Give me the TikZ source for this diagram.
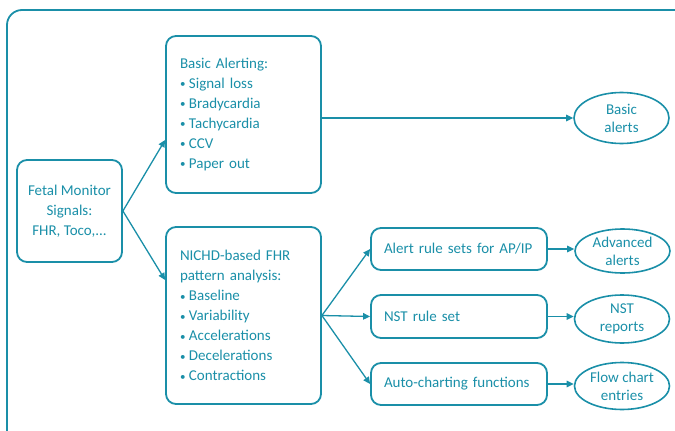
\documentclass[tikz,border=0pt]{standalone}
\usepackage{fontspec}
\setmainfont{Carlito}
\usetikzlibrary{arrows.meta,shapes.geometric,calc}
\definecolor{tealc}{RGB}{26,143,168}
% small list bullet
\newcommand{\lbul}{{\fontsize{11}{11}\selectfont\raisebox{0.6pt}{•}}\hspace{3.5pt}}
\begin{document}
\begin{tikzpicture}[x=1pt,y=-1pt,
  every node/.style={text=tealc, font=\fontsize{15}{20}\selectfont},
  box/.style={draw=tealc, line width=1.8pt, rounded corners=10pt, inner sep=0pt},
  oval/.style={draw=tealc, line width=1.6pt, ellipse, inner sep=0pt,
    minimum width=95pt, align=center, font=\fontsize{15}{18}\selectfont},
  conn/.style={draw=tealc, line width=1.3pt, -{Triangle[length=7pt,width=6.5pt]}}
]
\useasboundingbox (0,0) rectangle (675,431);
% outer frame, running off the right and bottom edges
\draw[tealc, line width=1.8pt, rounded corners=15pt] (7,10) rectangle (710,460);

% input
\node[box, minimum width=105pt, minimum height=102pt, align=center] (fetal) at (69.5,211)
  {Fetal Monitor\\Signals:\\FHR, Toco,...};

% processing blocks
\node[box, minimum width=155pt, minimum height=157pt, text width=127pt, align=left] (basic) at (243.5,114.5)
  {Basic Alerting:\\\lbul Signal loss\\\lbul Bradycardia\\\lbul Tachycardia\\\lbul CCV\\\lbul Paper out\\[-5pt]};
\node[box, minimum width=155pt, minimum height=177pt, text width=127pt, align=left] (nichd) at (243.5,315.5)
  {NICHD-based FHR\\pattern analysis:\\\lbul Baseline\\\lbul Variability\\\lbul Accelerations\\\lbul Decelerations\\\lbul Contractions};

\node[box, minimum width=176pt, minimum height=42pt, text width=150pt, align=left] (alert) at (459,249)
  {Alert rule sets for AP/IP};
\node[box, minimum width=176pt, minimum height=43pt, text width=150pt, align=left] (nst) at (459,316.5)
  {NST rule set};
\node[box, minimum width=176pt, minimum height=42pt, text width=150pt, align=left] (auto) at (459,384)
  {Auto-charting functions};

% outputs
\node[oval, minimum height=51pt] (balerts) at (621.5,118) {Basic\\alerts};
\node[oval, minimum height=44pt] (adv) at (622.5,251) {Advanced\\alerts};
\node[oval, minimum height=48pt] (nstr) at (622,319) {NST\\reports};
\node[oval, minimum height=47pt] (flow) at (622,386) {Flow chart\\entries};

% connectors
\draw[conn] (fetal.east) -- ([yshift=-25.5pt]basic.west);
\draw[conn] (fetal.east) -- ([yshift=35.5pt]nichd.west);
\draw[conn] (basic.east |- balerts.west) -- (balerts.west);
\draw[conn] (nichd.east) -- (alert.west);
\draw[conn] (nichd.east) -- (nst.west);
\draw[conn] (nichd.east) -- (auto.west);
\draw[conn] (alert.east) -- (alert.east -| adv.west);
\draw[conn] (nst.east) -- (nst.east -| nstr.west);
\draw[conn] (auto.east) -- (auto.east -| flow.west);
\end{tikzpicture}
\end{document}
